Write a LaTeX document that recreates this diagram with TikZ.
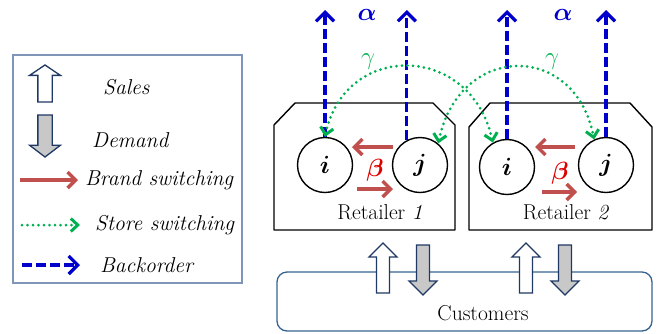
\documentclass[tikz,border=0pt]{standalone}
\usepackage{amsmath,amssymb}
\usepackage{bm}
\usetikzlibrary{arrows.meta}
\definecolor{brandred}{HTML}{C0504D}
\definecolor{betared}{HTML}{E00000}
\definecolor{storegreen}{HTML}{00B050}
\definecolor{backblue}{HTML}{0000CC}
\definecolor{legendline}{HTML}{8096B8}
\definecolor{custline}{HTML}{36628F}
\definecolor{blockline}{HTML}{1F3864}
\definecolor{demandgray}{HTML}{C8C8C8}
\tikzset{
every node/.style={font=\fontsize{21.5}{24}\selectfont},
item/.style={circle,draw,line width=1.4pt,minimum size=55pt,inner sep=0pt,font=\fontsize{24}{28}\selectfont},
retailer/.style={line width=1.4pt,line join=round},
legendtext/.style={anchor=west,inner sep=0pt,font=\fontsize{21.5}{24}\selectfont\itshape},
greek/.style={font=\fontsize{25}{28}\selectfont},
brand/.style={draw=brandred,line width=3.5pt,-{Straight Barb[length=8pt,width=16pt]}},
store/.style={draw=storegreen,line width=3pt,line cap=round,dash pattern=on 0pt off 5.5pt},
storetip/.style={{Straight Barb[length=7pt,width=13pt]}-{Straight Barb[length=7pt,width=13pt]}},
backorder/.style={draw=backblue,line width=3.2pt,dash pattern=on 10pt off 4pt,-{Straight Barb[length=9pt,width=18pt]}},
salesarrow/.style={draw=blockline,line width=1.3pt,fill=white},
demandarrow/.style={draw=blockline,line width=1.3pt,fill=demandgray},
blockarrow/.pic={\path[pic actions] (-6.5,0) -- (-6.5,-36) -- (-14,-36) -- (0,-50) -- (14,-36) -- (6.5,-36) -- (6.5,0) -- cycle;}
}
\begin{document}
\begin{tikzpicture}[x=1pt,y=-1pt]
\useasboundingbox (0,0) rectangle (660,333);
\draw[legendline,line width=1.2pt] (13,55) rectangle (242,283);
\pic[salesarrow,xscale=1.1,yscale=0.74] at (45,102) {blockarrow};
\pic[demandarrow,rotate=180,xscale=1.1,yscale=0.84] at (45,115) {blockarrow};
\node[legendtext] (lsales) at (103,87) {Sales};
\node[legendtext] (ldemand) at (92,140) {Demand};
\node[legendtext] (lbrand) at (85,180) {Brand switching};
\node[legendtext] (lstore) at (95,225) {Store switching};
\node[legendtext] (lback) at (100,265) {Backorder};
\coordinate (lb0) at (20,180);
\coordinate (lb1) at (78,180);
\coordinate (ls0) at (22,225);
\coordinate (ls1) at (80,225);
\coordinate (lk0) at (22,265);
\coordinate (lk1) at (80,265);
\draw[brand] (lb0) -- (lb1);
\draw[store,-{Straight Barb[length=7pt,width=13pt]}] (ls0) -- (ls1);
\draw[backorder] (lk0) -- (lk1);

\draw[retailer] (274,230) -- (274,125) -- (295,103) -- (433,103) -- (455,125) -- (455,230) -- cycle;
\draw[retailer] (469,230) -- (469,127) -- (490,103) -- (630,103) -- (652,127) -- (652,230) -- cycle;
\node (r1label) at (380,212) {Retailer \textit{1}};
\node (r2label) at (566,212) {Retailer \textit{2}};
\node[item] (i1) at (325,165) {$\bm{i}$};
\node[item] (j1) at (420,165) {$\bm{j}$};
\node[item] (i2) at (507,167) {$\bm{i}$};
\node[item] (j2) at (606,165) {$\bm{j}$};

\draw[brand] ([shift={(-27,-18)}]j1.center) -- ([shift={(27,-18)}]i1.center);
\draw[brand] ([shift={(32,24)}]i1.center) -- ([shift={(-27,24)}]j1.center);
\draw[brand] ([shift={(-31,-18)}]j2.center) -- ([shift={(28,-20)}]i2.center);
\draw[brand] ([shift={(35,25)}]i2.center) -- ([shift={(-29,27)}]j2.center);
\node[greek,text=betared] (b1) at (375,170) {$\bm{\beta}$};
\node[greek,text=betared] (b2) at (560,173) {$\bm{\beta}$};

\coordinate (top) at (0,10);
\draw[backorder] (i1.north) -- (i1.north |- top);
\draw[backorder] (j1.118) -- (j1.118 |- top);
\draw[backorder] (i2.north) -- (i2.north |- top);
\draw[backorder] (j2.north) -- (j2.north |- top);
\node[greek,text=backblue] (a1) at (367,15) {$\bm{\alpha}$};
\node[greek,text=backblue] (a2) at (563,15) {$\bm{\alpha}$};

\draw[store,storetip] (i1.north) .. controls (345,42) and (470,42) .. (i2.120);
\draw[store,storetip] (j1.50) .. controls (460,42) and (575,42) .. (j2.115);
\node[greek,text=storegreen] (g1) at (368,62) {$\gamma$};
\node[greek,text=storegreen] (g2) at (552,62) {$\gamma$};

\draw[custline,line width=1.3pt,rounded corners=10pt] (277,272) rectangle (652,331);
\node (cust) at (483,313) {Customers};
\pic[salesarrow] at (383,293) {blockarrow};
\pic[demandarrow,rotate=180] at (423,245) {blockarrow};
\pic[salesarrow] at (526,293) {blockarrow};
\pic[demandarrow,rotate=180] at (565,245) {blockarrow};
\end{tikzpicture}
\end{document}
